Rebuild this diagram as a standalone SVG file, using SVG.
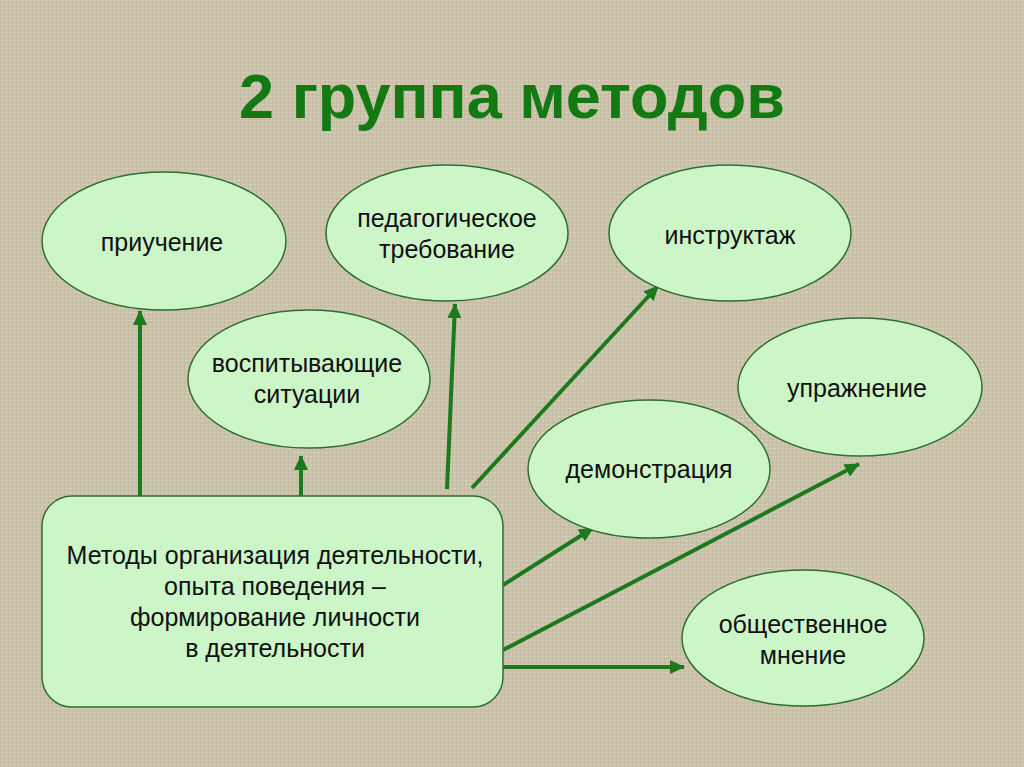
<svg xmlns="http://www.w3.org/2000/svg" width="1024" height="767" viewBox="0 0 1024 767">
<defs>
<style>
.n{fill:#ccf5c8;stroke:#2f6e2f;stroke-width:1.5}
.t{font-family:"Liberation Sans",Arial,sans-serif;font-size:25px;fill:#111;text-anchor:middle}
.c{stroke:#1c7a1c;stroke-width:4;fill:none;marker-end:url(#ah)}
</style>
<marker id="ah" markerUnits="userSpaceOnUse" markerWidth="16" markerHeight="14" refX="14" refY="7" orient="auto">
<path d="M0,0 L15,7 L0,14 Z" fill="#1c7a1c"/>
</marker>
<pattern id="bg" width="4" height="4" patternUnits="userSpaceOnUse">
<rect width="4" height="4" fill="#cbc2ab"/>
<rect width="4" height="1" fill="#d5cdb8"/>
<rect width="1" height="4" fill="#bfb69e" opacity="0.6"/>
</pattern>
</defs>
<rect width="1024" height="767" fill="url(#bg)"/>
<text x="512" y="118" font-family="Liberation Sans,Arial,sans-serif" font-size="63" font-weight="bold" fill="#137a13" text-anchor="middle">2 группа методов</text>
<g id="connectors">
<line class="c" x1="140" y1="496" x2="140" y2="311"/>
<line class="c" x1="301" y1="496" x2="301" y2="456"/>
<line class="c" x1="447" y1="489" x2="455" y2="304"/>
<line class="c" x1="472" y1="488" x2="658" y2="286"/>
<line class="c" x1="503" y1="585" x2="593" y2="528"/>
<line class="c" x1="503" y1="650" x2="859" y2="464"/>
<line class="c" x1="503" y1="667" x2="684" y2="667"/>
</g>
<g id="n1"><ellipse class="n" cx="164" cy="241" rx="122" ry="69"/><text class="t" x="162" y="251">приучение</text></g>
<g id="n2"><ellipse class="n" cx="447" cy="233" rx="121" ry="68"/><text class="t" x="447" y="227">педагогическое</text><text class="t" x="447" y="258">требование</text></g>
<g id="n3"><ellipse class="n" cx="730" cy="233" rx="121" ry="68"/><text class="t" x="730" y="244">инструктаж</text></g>
<g id="n4"><ellipse class="n" cx="309" cy="379" rx="121" ry="69"/><text class="t" x="307" y="372">воспитывающие</text><text class="t" x="307" y="403">ситуации</text></g>
<g id="n5"><ellipse class="n" cx="860" cy="387" rx="122" ry="69"/><text class="t" x="857" y="397">упражнение</text></g>
<g id="n6"><ellipse class="n" cx="649" cy="469" rx="121" ry="69"/><text class="t" x="649" y="478">демонстрация</text></g>
<g id="n7"><ellipse class="n" cx="803" cy="638" rx="121" ry="68"/><text class="t" x="803" y="633">общественное</text><text class="t" x="803" y="664">мнение</text></g>
<g id="main"><rect class="n" x="42" y="496" width="461" height="211" rx="30" ry="30"/>
<text class="t" x="275" y="564">Методы организация деятельности,</text>
<text class="t" x="275" y="595">опыта поведения –</text>
<text class="t" x="275" y="626">формирование личности</text>
<text class="t" x="275" y="657">в деятельности</text></g>
</svg>
